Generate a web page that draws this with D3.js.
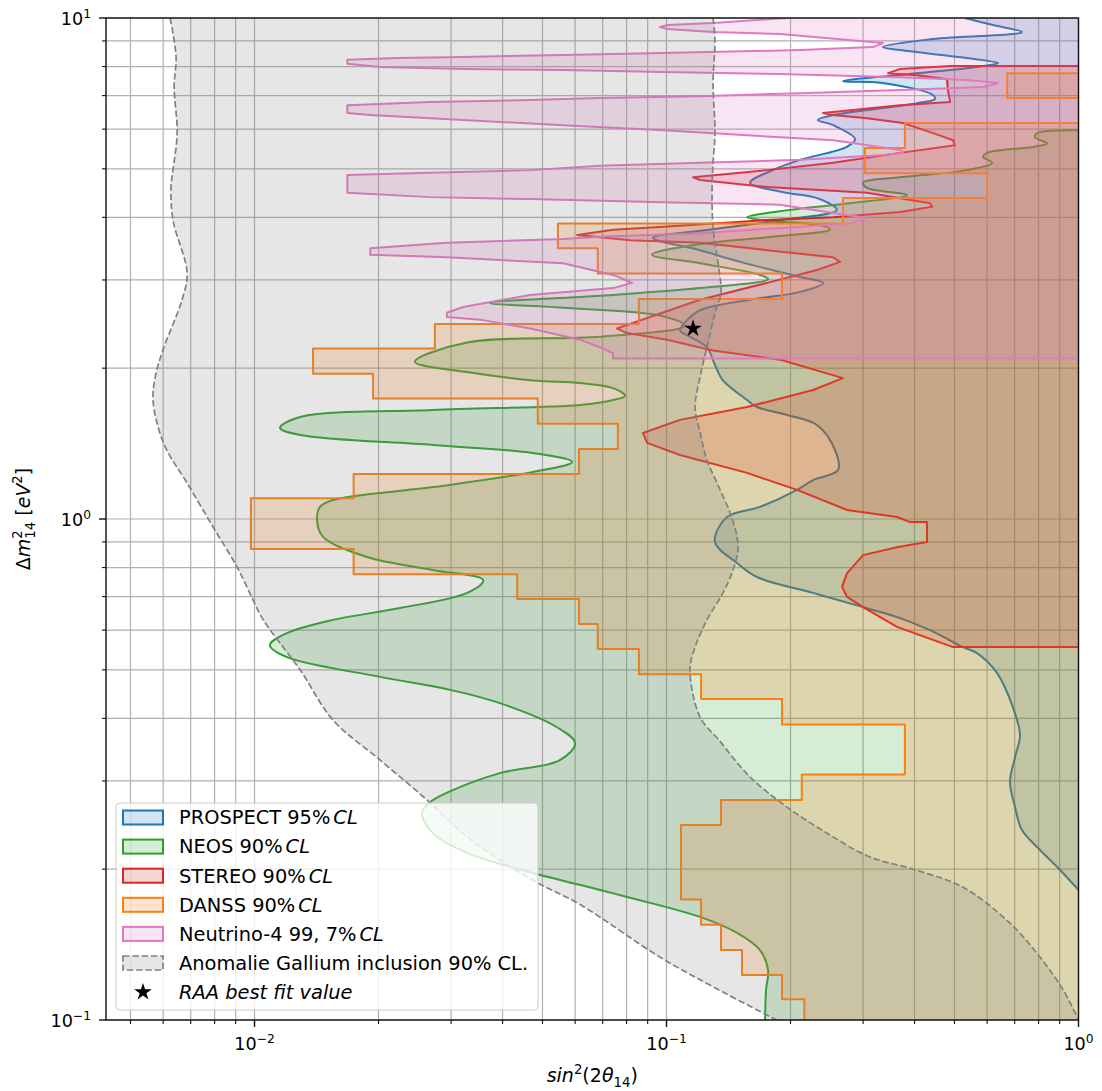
<!DOCTYPE html>
<html><head><meta charset="utf-8">
<script src="https://cdn.jsdelivr.net/npm/d3@7"></script>
<style>body{margin:0;background:#fff}svg{display:block}text{font-family:"DejaVu Sans",sans-serif;fill:#000}</style>
</head><body><svg id="c" width="1102" height="1091"></svg>
<script>
// ---------------- data (sin^2(2θ14), Δm²14 [eV²]) ----------------
const seriesNames = ["PROSPECT 95%", "NEOS 90%", "STEREO 90%", "DANSS 90%", "Neutrino-4 99, 7%", "Anomalie Gallium inclusion 90% CL.", "RAA best fit value"];
const seriesColors = ["#1f77b4", "#2ca02c", "#d62728", "#ff7f0e", "#e377c2", "#808080", "#000000"];

const prospect = [[0.53,10],[0.62,9.68],[0.729,9.38],[0.721,9.33],[0.4435,9.08],[0.335,8.75],[0.369,8.63],[0.536,8.32],[0.638,8.13],[0.587,8.02],[0.488,7.87],[0.268,7.48],[0.335,7.42],[0.4435,7.02],[0.4485,6.89],[0.4055,6.76],[0.254,6.4],[0.233,6.26],[0.254,6.11],[0.287,5.73],[0.274,5.53],[0.211,5.21],[0.181,4.97],[0.1595,4.69],[0.192,4.49],[0.232,4.37],[0.259,4.14],[0.189,3.95],[0.1206,3.76],[0.0927,3.64],[0.1206,3.44],[0.151,3.26],[0.211,3.04],[0.24,2.96],[0.211,2.84],[0.1595,2.74],[0.1206,2.61],[0.1109,2.47],[0.1078,2.38],[0.114,2.31],[0.1254,2.2],[0.1311,2.03],[0.1371,1.89],[0.1568,1.728],[0.1658,1.673],[0.1961,1.613],[0.2319,1.54],[0.2564,1.373],[0.2608,1.252],[0.2268,1.196],[0.2074,1.143],[0.1686,1.057],[0.1402,1.009],[0.1311,0.9],[0.1483,0.817],[0.1658,0.766],[0.2268,0.712],[0.3,0.667],[0.363,0.637],[0.436,0.6],[0.5245,0.555],[0.567,0.54],[0.634,0.493],[0.693,0.421],[0.721,0.3706],[0.7015,0.335],[0.682,0.2986],[0.7015,0.266],[0.729,0.2394],[0.8065,0.2184],[0.902,0.1993],[1,0.1818]];

const neos = [[1,5.97],[0.793,5.89],[0.784,5.78],[0.839,5.62],[0.775,5.53],[0.6,5.38],[0.5865,5.28],[0.617,5.14],[0.536,4.97],[0.369,4.81],[0.3,4.69],[0.3067,4.58],[0.3835,4.43],[0.2789,4.27],[0.1994,4.14],[0.1568,4.0],[0.1783,3.93],[0.2358,3.86],[0.2494,3.78],[0.1886,3.67],[0.1206,3.54],[0.0922,3.37],[0.1206,3.24],[0.1686,3.07],[0.1764,3.01],[0.1206,2.89],[0.069,2.79],[0.0373,2.7],[0.0561,2.64],[0.0981,2.54],[0.1109,2.43],[0.069,2.31],[0.0328,2.25],[0.0245,2.06],[0.0328,1.965],[0.0474,1.89],[0.0617,1.868],[0.0742,1.825],[0.0793,1.761],[0.0742,1.728],[0.0617,1.689],[0.0271,1.651],[0.0129,1.598],[0.01153,1.52],[0.0129,1.471],[0.0271,1.405],[0.0474,1.354],[0.059,1.3],[0.0474,1.241],[0.0271,1.158],[0.0155,1.091],[0.01442,1.057],[0.01418,0.995],[0.01467,0.921],[0.01875,0.84],[0.0271,0.791],[0.0359,0.755],[0.0328,0.712],[0.02255,0.664],[0.0155,0.629],[0.01199,0.592],[0.0109,0.56],[0.01199,0.53],[0.0202,0.484],[0.0298,0.456],[0.0394,0.429],[0.0542,0.384],[0.06,0.357],[0.0551,0.33],[0.0394,0.311],[0.0303,0.2877],[0.0267,0.2723],[0.0255,0.2589],[0.0271,0.236],[0.0328,0.2155],[0.0474,0.1965],[0.069,0.1818],[0.0802,0.176],[0.1206,0.1606],[0.1483,0.1492],[0.1686,0.1379],[0.1764,0.1258],[0.1744,0.1148],[0.1735,0.1]];

const stereo = [[1,8.02],[0.488,8.02],[0.369,7.91],[0.345,7.76],[0.4055,7.69],[0.4795,7.55],[0.482,7.18],[0.488,6.8],[0.369,6.7],[0.2536,6.49],[0.2398,6.46],[0.2536,6.4],[0.3067,6.31],[0.375,6.17],[0.4435,5.89],[0.496,5.7],[0.501,5.57],[0.369,5.38],[0.2536,5.14],[0.1754,4.97],[0.116,4.81],[0.1206,4.75],[0.1754,4.6],[0.3067,4.48],[0.4361,4.27],[0.441,4.2],[0.369,4.1],[0.2536,4.0],[0.1754,3.95],[0.0981,3.83],[0.0742,3.78],[0.0607,3.69],[0.0816,3.6],[0.1206,3.56],[0.1754,3.44],[0.2536,3.33],[0.2637,3.26],[0.2319,3.14],[0.1754,2.96],[0.1206,2.74],[0.0912,2.53],[0.0758,2.4],[0.0802,2.35],[0.1003,2.28],[0.1297,2.17],[0.1886,2.08],[0.268,1.911],[0.2268,1.809],[0.1568,1.673],[0.1078,1.577],[0.0877,1.485],[0.0897,1.419],[0.1078,1.342],[0.1568,1.236],[0.2074,1.143],[0.2743,1.042],[0.3627,1.009],[0.39,0.986],[0.4288,0.986],[0.4288,0.9],[0.3647,0.879],[0.2999,0.847],[0.2743,0.78],[0.2667,0.732],[0.2743,0.699],[0.2999,0.667],[0.3627,0.609],[0.496,0.555],[1,0.555]];

// DANSS: Δm² bin edges (top → bottom) and the left sin² edge of each bin
const danssEdges = [6.17,5.50,4.90,4.37,3.89,3.47,3.09,2.75,2.45,2.19,1.95,1.74,1.55,1.38,1.23,1.10,0.977,0.871,0.776,0.692,0.617,0.550,0.490,0.437,0.389,0.347,0.309,0.275,0.245,0.219,0.195,0.174,0.155,0.138,0.123,0.110,0.1];
const danssLeft = [0.379,0.303,0.600,0.268,0.0545,0.0681,0.1907,0.0857,0.0274,0.01387,0.0194,0.0487,0.0762,0.0613,0.0174,0.0098,0.0098,0.0174,0.0434,0.0613,0.0681,0.0857,0.1213,0.1907,0.379,0.379,0.213,0.1356,0.1084,0.1084,0.1084,0.1213,0.1356,0.1525,0.1907,0.216];
const danssIslandSin2 = [0.671, 1];
const danssIslandDm2 = [6.92, 7.76];

const neutrino4 = [[0.196,10],[0.1297,9.77],[0.1003,9.68],[0.0964,9.59],[0.1003,9.51],[0.1297,9.38],[0.1886,9.29],[0.295,9.0],[0.335,8.91],[0.317,8.75],[0.211,8.63],[0.0981,8.51],[0.0561,8.44],[0.0321,8.36],[0.0222,8.32],[0.0168,8.25],[0.0168,8.1],[0.0202,7.98],[0.0321,7.91],[0.0561,7.87],[0.0981,7.8],[0.1886,7.73],[0.369,7.62],[0.536,7.52],[0.638,7.42],[0.587,7.28],[0.369,7.18],[0.211,7.08],[0.1206,6.98],[0.069,6.92],[0.0467,6.86],[0.0267,6.8],[0.0168,6.7],[0.0168,6.46],[0.0191,6.4],[0.0321,6.26],[0.0561,6.11],[0.0981,5.97],[0.1886,5.78],[0.254,5.7],[0.369,5.45],[0.375,5.38],[0.335,5.33],[0.211,5.21],[0.1206,5.14],[0.069,5.07],[0.0467,4.97],[0.0267,4.91],[0.0168,4.86],[0.0168,4.48],[0.0267,4.39],[0.0467,4.35],[0.0981,4.29],[0.1886,4.24],[0.254,4.08],[0.307,3.99],[0.284,3.9],[0.211,3.83],[0.1206,3.72],[0.069,3.66],[0.0561,3.62],[0.0293,3.56],[0.0191,3.47],[0.0191,3.37],[0.0293,3.33],[0.0561,3.24],[0.0742,3.07],[0.0825,2.96],[0.0742,2.89],[0.0467,2.8],[0.0321,2.65],[0.0293,2.58],[0.0293,2.53],[0.0353,2.5],[0.0467,2.4],[0.0617,2.28],[0.069,2.2],[0.0742,2.14],[0.0742,2.09],[1,2.09]];

const galliumLeft = [[0.00624,10],[0.00645,8.36],[0.00638,7.28],[0.00649,5.9],[0.00634,4.97],[0.00627,4.6],[0.00634,3.95],[0.00686,3.1],[0.00667,2.74],[0.006,2.18],[0.00574,1.92],[0.00567,1.73],[0.00583,1.53],[0.00613,1.37],[0.00686,1.18],[0.00793,0.964],[0.00907,0.802],[0.00992,0.689],[0.0105,0.629],[0.0129,0.5],[0.0155,0.397],[0.0202,0.33],[0.0262,0.275],[0.0328,0.232],[0.0474,0.19],[0.0617,0.17],[0.0964,0.1335],[0.13,0.1164],[0.185,0.1]];
const galliumRight = [[0.1297,10],[0.1311,9.04],[0.1297,7.42],[0.1311,5.9],[0.1297,5.14],[0.129,4.6],[0.1297,3.83],[0.1341,3.14],[0.1356,2.83],[0.1311,2.58],[0.1261,2.25],[0.1206,1.92],[0.1173,1.67],[0.1206,1.49],[0.1254,1.31],[0.1326,1.18],[0.1426,1.03],[0.1483,0.921],[0.1491,0.867],[0.145,0.791],[0.1371,0.712],[0.1254,0.629],[0.1173,0.555],[0.114,0.5],[0.1206,0.4025],[0.1341,0.362],[0.1595,0.3055],[0.1961,0.266],[0.2453,0.236],[0.3118,0.2115],[0.3966,0.2],[0.5245,0.184],[0.682,0.156],[0.8065,0.1335],[0.917,0.115],[1.0,0.1]];

const raaBestFit = [0.116, 2.40];

const xDomain = [0.00436, 1];
const yDomain = [0.1, 10];
const xMajorTicks = [0.01, 0.1, 1];
const xTickExp = ["\u22122", "\u22121", "0"];
const yMajorTicks = [0.1, 1, 10];
const yTickExp = ["\u22121", "0", "1"];

// ---------------- drawing ----------------
const L = 106, R = 1078.5, T = 18, B = 1020;
const x = d3.scaleLog().domain(xDomain).range([L, R]);
const y = d3.scaleLog().domain(yDomain).range([B, T]);
const svg = d3.select("#c");

svg.append("defs").append("clipPath").attr("id", "clip")
  .append("rect").attr("x", L).attr("y", T).attr("width", R - L).attr("height", B - T);

// grid (major + minor)
const xGrid = [], yGrid = [];
[0.001, 0.01, 0.1, 1].forEach(d => { for (let k = 1; k <= 9; k++) { const v = +(k * d).toPrecision(3); if (v >= xDomain[0] && v <= 1.0001) xGrid.push(v); } });
[0.1, 1, 10].forEach(d => { for (let k = 1; k <= 9; k++) { const v = +(k * d).toPrecision(3); if (v >= 0.0999 && v <= 10.001) yGrid.push(v); } });
const gg = svg.append("g").attr("stroke", "#b0b0b0").attr("stroke-width", 1.2);
gg.selectAll("line.gx").data(xGrid).join("line").attr("x1", d => x(d)).attr("x2", d => x(d)).attr("y1", T).attr("y2", B);
gg.selectAll("line.gy").data(yGrid).join("line").attr("y1", d => y(d)).attr("y2", d => y(d)).attr("x1", L).attr("x2", R);

const plot = svg.append("g").attr("clip-path", "url(#clip)");
const lin = d3.line().x(d => x(d[0])).y(d => y(d[1]));
const smooth = d3.line().x(d => x(d[0])).y(d => y(d[1])).curve(d3.curveCatmullRom.alpha(0.5));
const corners = cs => cs.map(c => `L${x(c[0])},${y(c[1])}`).join("");

function region(gen, pts, extra, color, dashed) {
  const g = plot.append("g");
  g.append("path").attr("d", gen(pts) + corners(extra) + "Z")
    .attr("fill", color).attr("fill-opacity", 0.2).attr("stroke", "none");
  const p = g.append("path").attr("d", gen(pts)).attr("fill", "none")
    .attr("stroke", color).attr("stroke-width", 2).attr("stroke-linejoin", "round");
  if (dashed) p.attr("stroke-dasharray", dashed);
  return g;
}

// PROSPECT
region(smooth, prospect, [[1, 10]], seriesColors[0]);
// NEOS
region(smooth, neos, [[1, 0.1]], seriesColors[1]);
// STEREO
region(lin, stereo, [], seriesColors[2]);
// DANSS (step boundary built from bins)
const danssPts = [[1, danssEdges[0]]];
danssLeft.forEach((v, i) => { danssPts.push([v, danssEdges[i]]); danssPts.push([v, danssEdges[i + 1]]); });
region(lin, danssPts, [[1, 0.1]], seriesColors[3]);
const isl = [[danssIslandSin2[1], danssIslandDm2[1]], [danssIslandSin2[0], danssIslandDm2[1]], [danssIslandSin2[0], danssIslandDm2[0]], [danssIslandSin2[1], danssIslandDm2[0]]];
region(lin, isl, [], seriesColors[3]);
// Neutrino-4
region(lin, neutrino4, [[1, 10]], seriesColors[4]);
// Gallium
{
  const g = plot.append("g");
  const left = smooth(galliumLeft);
  const right = smooth(galliumRight.slice().reverse());
  g.append("path").attr("d", left + "L" + right.slice(1) + "Z").attr("fill", "#808080").attr("fill-opacity", 0.2);
  [galliumLeft, galliumRight].forEach(b => g.append("path").attr("d", smooth(b)).attr("fill", "none")
    .attr("stroke", "#808080").attr("stroke-width", 1.7).attr("stroke-dasharray", "6.5,2.8"));
}
// star
const star = d3.symbol(d3.symbolStar).size(95);
plot.append("path").attr("d", star()).attr("transform", `translate(${x(raaBestFit[0])},${y(raaBestFit[1])})`).attr("fill", "#000");

// spines
svg.append("rect").attr("x", L).attr("y", T).attr("width", R - L).attr("height", B - T)
  .attr("fill", "none").attr("stroke", "#111").attr("stroke-width", 1.4);

// ticks
const tk = svg.append("g").attr("stroke", "#111");
xGrid.forEach(v => { const maj = xMajorTicks.some(m => Math.abs(m - v) < 1e-9);
  tk.append("line").attr("x1", x(v)).attr("x2", x(v)).attr("y1", B).attr("y2", B + (maj ? 7 : 4)).attr("stroke-width", maj ? 1.4 : 1.1); });
yGrid.forEach(v => { const maj = yMajorTicks.some(m => Math.abs(m - v) < 1e-9);
  tk.append("line").attr("y1", y(v)).attr("y2", y(v)).attr("x1", L).attr("x2", L - (maj ? 7 : 4)).attr("stroke-width", maj ? 1.4 : 1.1); });

function powLabel(px, py, exp, anchor) {
  const t = svg.append("text").attr("x", px).attr("y", py).attr("font-size", 17.6).attr("text-anchor", anchor);
  t.append("tspan").text("10");
  t.append("tspan").text(exp).attr("font-size", 12.3).attr("dy", -7.5);
}
xMajorTicks.forEach((v, i) => powLabel(x(v), 1050, xTickExp[i], "middle"));
yMajorTicks.forEach((v, i) => powLabel(91, y(v) + 7, yTickExp[i], "end"));

function mathText(sel, parts, fs) {
  let shift = 0;
  parts.forEach(p => {
    const target = p.sup ? -0.4 * fs : p.sub ? 0.28 * fs : 0;
    const ts = sel.append("tspan").text(p.t).attr("dy", target - shift);
    shift = target;
    if (p.it) ts.attr("font-style", "italic");
    if (p.sup || p.sub) ts.attr("font-size", fs * 0.7);
    if (p.dx) ts.attr("dx", p.dx);
  });
}
// axis labels
const xl = svg.append("text").attr("x", (L + R) / 2).attr("y", 1082).attr("text-anchor", "middle").attr("font-size", 19);
mathText(xl, [{t: "sin", it: 1}, {t: "2", sup: 1}, {t: "(2"}, {t: "θ", it: 1}, {t: "14", sub: 1}, {t: ")"}], 19);
const yl = svg.append("text").attr("transform", `translate(30,${(T + B) / 2}) rotate(-90)`).attr("text-anchor", "middle").attr("font-size", 19);
mathText(yl, [{t: "Δ"}, {t: "m", it: 1}, {t: "2", sup: 1}, {t: "14", sub: 1, dx: -8.4}, {t: " ["}, {t: "eV", it: 1}, {t: "2", sup: 1}, {t: "]"}], 19);

// legend
const lg = svg.append("g");
lg.append("rect").attr("x", 116).attr("y", 803).attr("width", 422).attr("height", 207).attr("rx", 4)
  .attr("fill", "#fff").attr("fill-opacity", 0.8).attr("stroke", "#cccccc").attr("stroke-width", 1);
seriesNames.forEach((name, i) => {
  const cy = 817.5 + i * 29.1;
  const c = seriesColors[i];
  if (i < 6) {
    const r = lg.append("rect").attr("x", 123).attr("y", cy - 7).attr("width", 40).attr("height", 14)
      .attr("fill", c).attr("fill-opacity", 0.2).attr("stroke", c).attr("stroke-width", i === 5 ? 1.7 : 2);
    if (i === 5) r.attr("stroke-dasharray", "6.5,2.8");
  } else {
    lg.append("path").attr("d", star()).attr("transform", `translate(143,${cy})`).attr("fill", "#000");
  }
  const t = lg.append("text").attr("x", 179).attr("y", cy + 6.8).attr("font-size", 19.4);
  if (i < 5) { t.append("tspan").text(name); t.append("tspan").text("CL").attr("font-style", "italic").attr("dx", 3); }
  else if (i === 5) t.text(name);
  else t.text(name).attr("font-style", "italic");
});
</script></body></html>
